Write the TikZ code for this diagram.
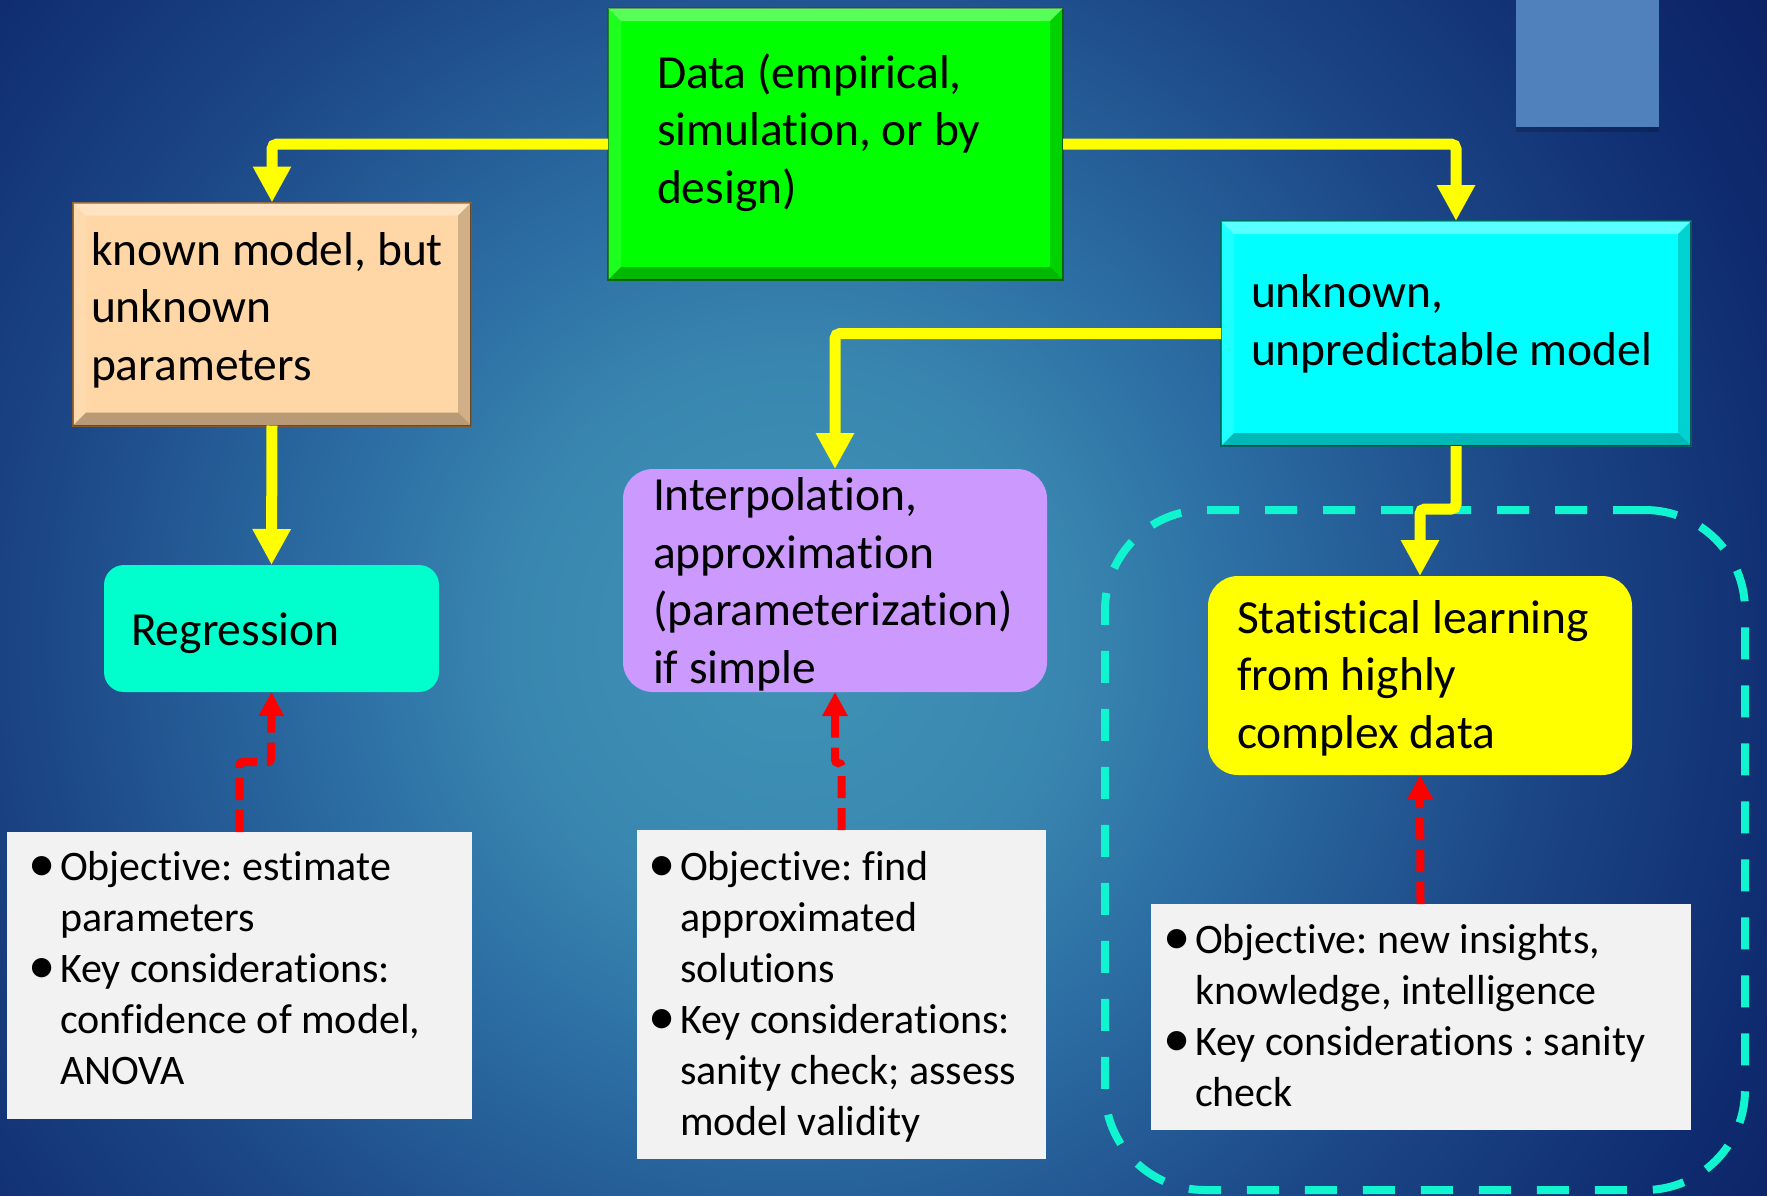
\documentclass[tikz,border=0pt]{standalone}
\usepackage{fontspec}
\setmainfont{Carlito}[RawFeature={-liga}]
\usetikzlibrary{arrows.meta,calc}
\definecolor{bg0}{HTML}{3F93B6}
\definecolor{bg1}{HTML}{3987B0}
\definecolor{bg2}{HTML}{2B6CA2}
\definecolor{bg3}{HTML}{1C4787}
\definecolor{bg4}{HTML}{0F2C70}
\definecolor{bg5}{HTML}{0B1F60}
\definecolor{datagreen}{HTML}{00FF00}
\definecolor{peach}{HTML}{FFD6A5}
\definecolor{cyanbox}{HTML}{00FFFF}
\definecolor{regcol}{HTML}{00FFCC}
\definecolor{lilac}{HTML}{CC99FF}
\definecolor{yelbox}{HTML}{FFFF00}
\definecolor{note}{HTML}{F2F2F2}
\definecolor{frame}{HTML}{10F5CF}
\definecolor{sqblue}{HTML}{5181BD}
\definecolor{arrred}{HTML}{FF0000}
\pgfdeclareradialshading{bgshade}{\pgfpoint{0bp}{0bp}}{color(0bp)=(bg0); color(4bp)=(bg1); color(7bp)=(bg2); color(11bp)=(bg3); color(15bp)=(bg4); color(18bp)=(bg5); color(50bp)=(bg5)}
\newcommand\bul{\makebox[27pt][l]{\hspace*{-5pt}\raisebox{-1.5pt}{\scalebox{1.3}{•}}}}
\newcommand\ind{\hspace*{27pt}}
\newcommand\bevelize[2]{%
  \fill[white,opacity=0.35] (#1.north west) -- (#1.north east) -- ($(#1.north east)+(-#2,#2)$) -- ($(#1.north west)+(#2,#2)$) -- cycle;
  \fill[white,opacity=0.12] (#1.north west) -- ($(#1.north west)+(#2,#2)$) -- ($(#1.south west)+(#2,-#2)$) -- (#1.south west) -- cycle;
  \fill[black,opacity=0.28] (#1.south west) -- (#1.south east) -- ($(#1.south east)+(-#2,-#2)$) -- ($(#1.south west)+(#2,-#2)$) -- cycle;
  \fill[black,opacity=0.18] (#1.north east) -- (#1.south east) -- ($(#1.south east)+(-#2,-#2)$) -- ($(#1.north east)+(-#2,#2)$) -- cycle;
}
\tikzset{
  plainbox/.style={inner sep=0pt, outer sep=0pt},
  roundbox/.style={inner sep=0pt, outer sep=0pt, rounded corners=#1},
  txt/.style={inner sep=0pt, outer sep=0pt, align=left, anchor=base west,
    font=\fontsize{47.5}{57.5}\selectfont\frenchspacing},
  btxt/.style={inner sep=0pt, outer sep=0pt, align=left, anchor=base west,
    font=\fontsize{42}{51}\selectfont\frenchspacing},
  yarrow/.style={draw=yelbox, line width=11pt, rounded corners=5pt,
    -{Triangle[width=36pt,length=36pt]}},
  rarrow/.style={draw=arrred, line width=8pt, dash pattern=on 22pt off 10pt,
    rounded corners=3pt, -{Triangle[width=24pt,length=24pt]}},
  grpframe/.style={draw=frame, line width=8pt, dash pattern=on 32pt off 26pt,
    rounded corners=100pt, inner sep=0pt}
}
\begin{document}
\begin{tikzpicture}[x=1pt,y=-1pt]
\useasboundingbox (0,0) rectangle (1767,1195);
\begin{scope}
  \clip (0,0) rectangle (1767,1195);
  \fill[bg5] (0,0) rectangle (1767,1195);
  \shade[shading=bgshade] (790,640) ellipse (1700 and 1700);
\end{scope}
% decorative square
\fill[black,opacity=0.18] (1516,126) rectangle (1659,132);
\node[plainbox, fill=sqblue, minimum width=143pt, minimum height=127pt] (sq) at (1587.5,63) {};
% group frame
\node[grpframe, minimum width=640pt, minimum height=680pt] (grp) at (1425,850) {};
% boxes
\node[plainbox, fill=datagreen, draw=green!45!black, line width=2pt, minimum width=455pt, minimum height=272pt] (data) at (835.5,144) {};
\bevelize{data}{13}
\node[plainbox, fill=peach, draw=brown!70!black, line width=2pt, minimum width=398pt, minimum height=223pt] (known) at (272,314) {};
\bevelize{known}{13}
\node[plainbox, fill=cyanbox, draw=teal!80!black, line width=2pt, minimum width=470pt, minimum height=225pt] (unknown) at (1456,333.5) {};
\bevelize{unknown}{13}
\node[roundbox=20pt, fill=regcol, minimum width=335pt, minimum height=127pt] (reg) at (271.5,628.5) {};
\node[roundbox=30pt, fill=lilac, minimum width=424pt, minimum height=223pt] (interp) at (835,580.5) {};
\node[roundbox=30pt, fill=yelbox, minimum width=424pt, minimum height=199pt] (stat) at (1420,675.5) {};
\node[plainbox, fill=note, minimum width=465pt, minimum height=287pt] (b1) at (239.5,975.5) {};
\node[plainbox, fill=note, minimum width=409pt, minimum height=329pt] (b2) at (841.5,994.5) {};
\node[plainbox, fill=note, minimum width=540pt, minimum height=226pt] (b3) at (1420.5,1017) {};
% texts (anchored at the baseline of the last line)
\node[txt] (dataT) at (657,203) {Data (empirical,\\simulation, or by\\design)};
\node[txt] (knownT) at (91,380) {known model, but\\unknown\\parameters};
\node[txt] (unknownT) at (1251,365) {unknown,\\unpredictable model};
\node[txt] (regT) at (131,645) {Regression};
\node[txt] (interpT) at (653,683) {Interpolation,\\approximation\\(parameterization)\\if simple};
\node[txt] (statT) at (1237,748) {Statistical learning\\from highly\\complex data};
\node[btxt] (b1T) at (33,1084) {\bul Objective: estimate\\\ind parameters\\\bul Key considerations:\\\ind confidence of model,\\\ind ANOVA};
\node[btxt] (b2T) at (653,1135) {\bul Objective: find\\\ind approximated\\\ind solutions\\\bul Key considerations:\\\ind sanity check; assess\\\ind model validity};
\node[btxt] (b3T) at (1168,1106) {\bul Objective: new insights,\\\ind knowledge, intelligence\\\bul Key considerations : sanity\\\ind check};
% yellow connectors
\coordinate (j1) at (1420,509);
\draw[yarrow] (data.west) -| (known.north);
\draw[yarrow] (data.east) -| (unknown.north);
\draw[yarrow] (known.south) -- (reg.north);
\draw[yarrow] (unknown.west) -| (interp.north);
\draw[yarrow] (unknown.south) |- (j1) -- (stat.north);
% red connectors
\coordinate (r1) at (271,762);
\coordinate (r2) at (835,763);
\draw[rarrow] (b1.north) |- (r1) -- (reg.south);
\draw[rarrow] (b2.north) |- (r2) -- (interp.south);
\draw[rarrow] (b3.north) -- (stat.south);
\end{tikzpicture}
\end{document}
